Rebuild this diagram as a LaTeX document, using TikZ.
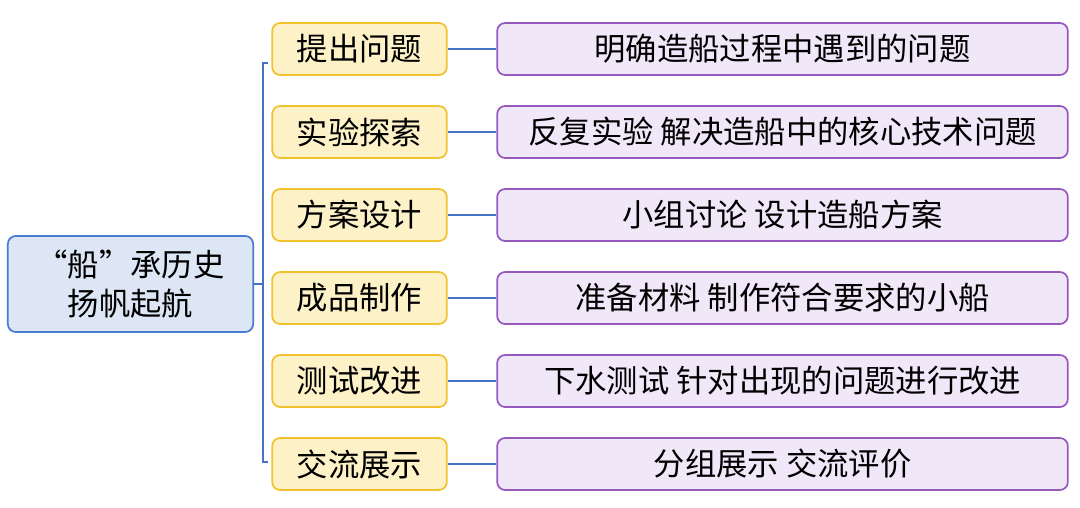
\documentclass[tikz,border=0pt]{standalone}
\usepackage{fontspec}
\usetikzlibrary{calc}
\setmainfont{Noto Sans CJK SC}
\begin{document}
\begin{tikzpicture}[x=0.75pt,y=-0.75pt,
 box/.style={rounded corners=6pt,line width=1.3pt,inner sep=0pt,font=\fontsize{23.5pt}{29pt}\selectfont,align=center},
 lv1/.style={box,draw={rgb,255:red,242;green,193;blue,46},fill={rgb,255:red,253;green,241;blue,200},minimum width=131pt,minimum height=39pt},
 lv2/.style={box,draw={rgb,255:red,150;green,90;blue,190},fill={rgb,255:red,240;green,231;blue,248},minimum width=428pt,minimum height=39pt},
 root/.style={box,draw={rgb,255:red,74;green,123;blue,208},fill={rgb,255:red,220;green,230;blue,244},minimum width=184pt,minimum height=72pt},
 con/.style={draw={rgb,255:red,68;green,114;blue,196},line width=1.2pt}]
\useasboundingbox (0,0) rectangle (1080,507);
\node[root] (r) at (130.5,284) {“船”承历史\\扬帆起航};
\coordinate (bt) at (263,63);
\coordinate (bb) at (263,462);
\coordinate (bm) at (263,284);
\draw[con] (r.east) -- (bm);
\draw[con] ($(bt)+(5,0)$) -- (bt) -- (bb) -- ++(5,0);
\foreach \i/\a/\b in {0/提出问题/明确造船过程中遇到的问题,1/实验探索/反复实验 解决造船中的核心技术问题,2/方案设计/小组讨论 设计造船方案,3/成品制作/准备材料 制作符合要求的小船,4/测试改进/下水测试 针对出现的问题进行改进,5/交流展示/分组展示 交流评价}{
 \node[lv1] (a\i) at (359.5,49+83*\i) {\a};
 \node[lv2] (b\i) at (782.5,49+83*\i) {\b};
 \draw[con] (a\i.east) -- (b\i.west);
}
\end{tikzpicture}
\end{document}
